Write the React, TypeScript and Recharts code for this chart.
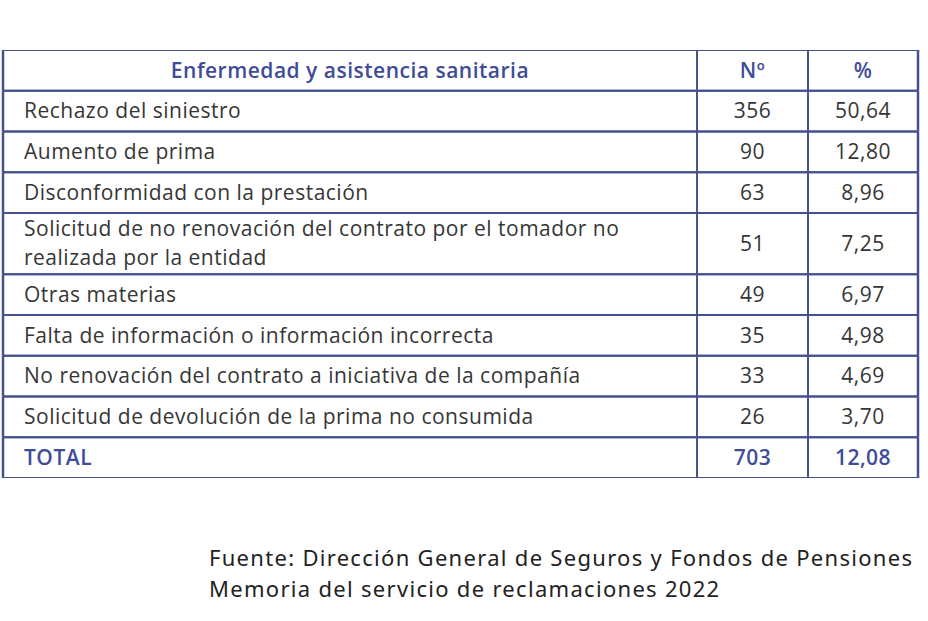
import React from 'react';
import { BarChart, Bar, XAxis, YAxis } from 'recharts';

// cabecera y filas de la tabla
const headers = ['Enfermedad y asistencia sanitaria', 'Nº', '%'];
const rowLabels = [
  'Rechazo del siniestro',
  'Aumento de prima',
  'Disconformidad con la prestación',
  'Solicitud de no renovación del contrato por el tomador no\nrealizada por la entidad',
  'Otras materias',
  'Falta de información o información incorrecta',
  'No renovación del contrato a iniciativa de la compañía',
  'Solicitud de devolución de la prima no consumida',
];
const counts = [356, 90, 63, 51, 49, 35, 33, 26];
const percents = [50.64, 12.8, 8.96, 7.25, 6.97, 4.98, 4.69, 3.7];
const totalLabel = 'TOTAL';
const totalCount = 703;
const totalPercent = 12.08;

const sourceLines = [
  'Fuente: Dirección General de Seguros y Fondos de Pensiones',
  'Memoria del servicio de reclamaciones 2022',
];

const BORDER = '#46508f';
const HEADER_BG = '#d9def4';
const HEADER_TEXT = '#3f4c9a';
const BODY_TEXT = '#363636';
const FONT = '"Open Sans", sans-serif';
const FONT_SIZE = 21;
const SPACING = 0.5;

// columnas como fracción del ancho de la tabla
const COL_SPLITS = [0.7585, 0.8798];

const fmtPct = (v: number) => v.toFixed(2).replace('.', ',');

type TableRow = { kind: 'header' | 'body' | 'total'; cells: string[] };

const tableRows: TableRow[] = [
  { kind: 'header', cells: headers },
  ...rowLabels.map((label, i) => ({
    kind: 'body' as const,
    cells: [label, String(counts[i]), fmtPct(percents[i])],
  })),
  { kind: 'total', cells: [totalLabel, String(totalCount), fmtPct(totalPercent)] },
];

// altura de cada fila según las líneas de texto de su etiqueta
const rowWeight = (r: TableRow) => 1 + 0.5 * (r.cells[0].split('\n').length - 1);
const stackRow: Record<string, string | number> = { name: 'tabla' };
tableRows.forEach((r, i) => {
  stackRow[`r${i}`] = rowWeight(r);
});
const chartData = [stackRow];
const totalWeight = tableRows.reduce((s, r) => s + rowWeight(r), 0);

function RowShape(props: any) {
  const { x, y, width, height, row } = props as { x: number; y: number; width: number; height: number; row: TableRow };
  const x1 = x + width * COL_SPLITS[0];
  const x2 = x + width * COL_SPLITS[1];
  const mid = y + height / 2;
  const isHeader = row.kind === 'header';
  const isTotal = row.kind === 'total';
  const color = isHeader || isTotal ? HEADER_TEXT : BODY_TEXT;
  const weight = isHeader || isTotal ? 600 : 400;
  const lines = row.cells[0].split('\n');
  const lineGap = 29;
  const textProps = {
    fontFamily: FONT,
    fontSize: FONT_SIZE,
    fontWeight: weight,
    letterSpacing: SPACING,
    fill: color,
    dy: '0.35em',
  };
  return (
    <g>
      <rect x={x} y={y} width={width} height={height} fill={isHeader ? HEADER_BG : '#ffffff'} />
      {lines.map((ln, j) => (
        <text
          key={j}
          x={isHeader ? (x + x1) / 2 : x + 21}
          y={mid + (j - (lines.length - 1) / 2) * lineGap}
          textAnchor={isHeader ? 'middle' : 'start'}
          {...textProps}
        >
          {ln}
        </text>
      ))}
      <text x={(x1 + x2) / 2} y={mid} textAnchor="middle" {...textProps}>
        {row.cells[1]}
      </text>
      <text x={(x2 + x + width) / 2} y={mid} textAnchor="middle" {...textProps}>
        {row.cells[2]}
      </text>
      <line x1={x} x2={x + width} y1={y} y2={y} stroke={BORDER} strokeWidth={2} />
      <line x1={x} x2={x + width} y1={y + height} y2={y + height} stroke={BORDER} strokeWidth={2} />
      <line x1={x} x2={x} y1={y} y2={y + height} stroke={BORDER} strokeWidth={2.5} />
      <line x1={x1} x2={x1} y1={y} y2={y + height} stroke={BORDER} strokeWidth={2} />
      <line x1={x2} x2={x2} y1={y} y2={y + height} stroke={BORDER} strokeWidth={2} />
      <line x1={x + width} x2={x + width} y1={y} y2={y + height} stroke={BORDER} strokeWidth={2.5} />
    </g>
  );
}

export default function App() {
  return (
    <div style={{ position: 'absolute', left: 0, top: 0, width: 928, height: 621, background: '#ffffff' }}>
      <BarChart
        width={928}
        height={500}
        data={chartData}
        margin={{ top: 50, right: 10, bottom: 22, left: 3 }}
        barCategoryGap={0}
        barGap={0}
      >
        <XAxis dataKey="name" type="category" hide />
        <YAxis type="number" domain={[0, totalWeight]} reversed hide allowDataOverflow />
        {tableRows.map((row, i) => (
          <Bar
            key={i}
            dataKey={`r${i}`}
            stackId="tabla"
            isAnimationActive={false}
            shape={(p: any) => <RowShape {...p} row={row} />}
          />
        ))}
      </BarChart>
      <div
        style={{
          position: 'absolute',
          left: 209,
          top: 542,
          fontFamily: '"Noto Sans", sans-serif',
          fontSize: 22,
          letterSpacing: 1.3,
          lineHeight: '31px',
          whiteSpace: 'nowrap',
          color: '#222222',
        }}
      >
        {sourceLines.map((s) => (
          <div key={s}>{s}</div>
        ))}
      </div>
    </div>
  );
}
